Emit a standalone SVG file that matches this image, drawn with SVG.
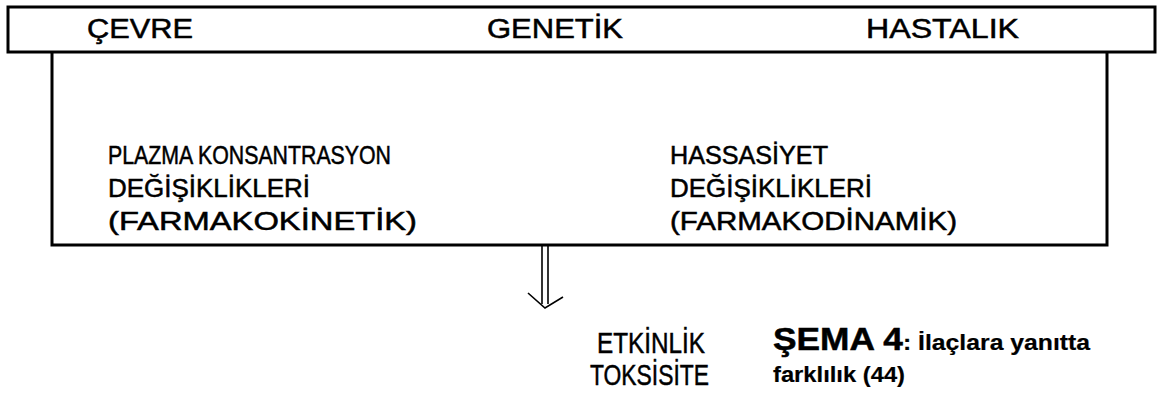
<svg xmlns="http://www.w3.org/2000/svg" width="1158" height="398" viewBox="0 0 1158 398">
<style>
.box{fill:none;stroke:#000;stroke-width:3}
.t{font-family:"Liberation Sans",Arial,sans-serif;fill:#000;stroke:#000;stroke-width:0.5}
.top{font-size:27px}
.in{font-size:25px}
.res{font-size:30px}
.cap{font-size:31px;font-weight:bold}
.capn{font-size:22px;font-weight:bold;stroke-width:0.2}
.ln{fill:none;stroke:#000;stroke-width:1.6}
</style>
<rect width="1158" height="398" fill="#fff"/>
<g id="top-box">
<rect class="box" x="8" y="7" width="1147" height="45"/>
<text class="t top" x="87" y="38" textLength="106" lengthAdjust="spacingAndGlyphs">ÇEVRE</text>
<text class="t top" x="487" y="38" textLength="136" lengthAdjust="spacingAndGlyphs">GENETİK</text>
<text class="t top" x="866" y="38" textLength="153" lengthAdjust="spacingAndGlyphs">HASTALIK</text>
</g>
<g id="main-box">
<polyline class="box" points="52,52 52,245 1107,245 1107,52"/>
<text class="t in" x="108" y="164" textLength="283" lengthAdjust="spacingAndGlyphs">PLAZMA KONSANTRASYON</text>
<text class="t in" x="108" y="197" textLength="202" lengthAdjust="spacingAndGlyphs">DEĞİŞİKLİKLERİ</text>
<text class="t in" x="108" y="230" textLength="309" lengthAdjust="spacingAndGlyphs">(FARMAKOKİNETİK)</text>
<text class="t in" x="670" y="164" textLength="158" lengthAdjust="spacingAndGlyphs">HASSASİYET</text>
<text class="t in" x="670" y="197" textLength="202" lengthAdjust="spacingAndGlyphs">DEĞİŞİKLİKLERİ</text>
<text class="t in" x="670" y="230" textLength="287" lengthAdjust="spacingAndGlyphs">(FARMAKODİNAMİK)</text>
</g>
<g id="connectors">
<line class="ln" x1="542" y1="245" x2="542" y2="304"/>
<line class="ln" x1="548" y1="245" x2="548" y2="304"/>
<polyline class="ln" points="528,293 545,308 563,297"/>
</g>
<g id="result">
<text class="t res" x="597" y="353" textLength="108" lengthAdjust="spacingAndGlyphs">ETKİNLİK</text>
<text class="t res" x="590" y="385" textLength="119" lengthAdjust="spacingAndGlyphs">TOKSİSİTE</text>
</g>
<g id="caption">
<text class="t cap" x="773" y="350" textLength="130" lengthAdjust="spacingAndGlyphs">ŞEMA 4</text>
<text class="t capn" x="903" y="350" textLength="187" lengthAdjust="spacingAndGlyphs">: İlaçlara yanıtta</text>
<text class="t capn" x="773" y="382" textLength="132" lengthAdjust="spacingAndGlyphs">farklılık (44)</text>
</g>
</svg>
